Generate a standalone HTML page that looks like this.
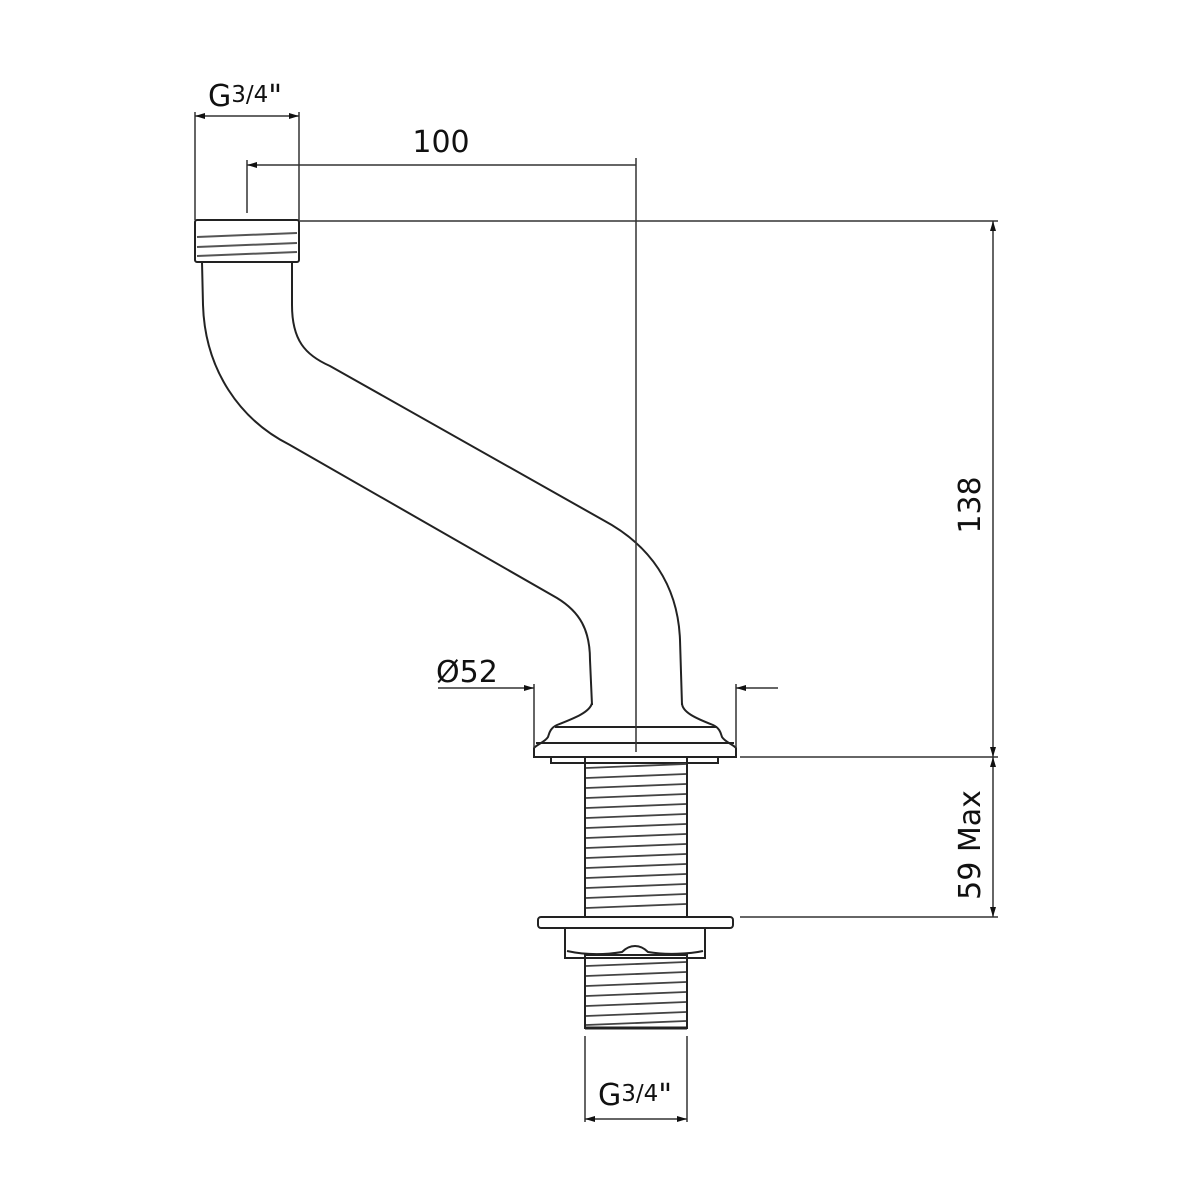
<!DOCTYPE html>
<html><head><meta charset="utf-8"><style>
html,body{margin:0;padding:0;background:#fff}
svg{display:block}
text{font-family:"DejaVu Sans","Liberation Sans",sans-serif;fill:#111}
</style></head><body>
<svg width="1200" height="1200" viewBox="0 0 1200 1200" xmlns="http://www.w3.org/2000/svg">
<defs>
<marker id="a" viewBox="0 0 10 6" refX="10" refY="3" markerWidth="10" markerHeight="6" orient="auto-start-reverse" markerUnits="userSpaceOnUse"><path d="M0,0 L10,3 L0,6z" fill="#111"/></marker>
</defs>
<g stroke="#222" stroke-width="2" fill="none">
<rect x="195" y="220" width="104" height="42" rx="2"/>
<line x1="197" y1="237" x2="297" y2="233" stroke="#555"/>
<line x1="197" y1="247" x2="297" y2="243" stroke="#555"/>
<line x1="197" y1="256" x2="297" y2="252" stroke="#555"/>
<path d="M202,262 L203,305 C205,370 240,420 290,445 L557,598 C580,612 590,630 590,660 L592,705"/>
<path d="M292,262 L292,305 C292,340 305,355 330,366 L603,520 C650,545 678,585 680,640 L682,705"/>
<path d="M592,703 C590,712 575,718 557,725 C550,728 549,734 548,737 C545,742 536,745 534,748 L534,757 L736,757 L736,748 C734,745 725,742 722,737 C721,734 720,728 713,725 C695,718 682,712 682,703"/>
<line x1="555" y1="727" x2="717" y2="727"/>
<line x1="536" y1="743" x2="734" y2="743"/>
<rect x="551" y="757" width="167" height="6"/>
<rect x="585" y="757" width="102" height="160"/>
<g stroke="#444" stroke-width="1.8">
<line x1="586" y1="768" x2="686" y2="764"/><line x1="586" y1="778" x2="686" y2="774"/>
<line x1="586" y1="788" x2="686" y2="784"/><line x1="586" y1="798" x2="686" y2="794"/>
<line x1="586" y1="808" x2="686" y2="804"/><line x1="586" y1="818" x2="686" y2="814"/>
<line x1="586" y1="828" x2="686" y2="824"/><line x1="586" y1="838" x2="686" y2="834"/>
<line x1="586" y1="848" x2="686" y2="844"/><line x1="586" y1="858" x2="686" y2="854"/>
<line x1="586" y1="868" x2="686" y2="864"/><line x1="586" y1="878" x2="686" y2="874"/>
<line x1="586" y1="888" x2="686" y2="884"/><line x1="586" y1="898" x2="686" y2="894"/>
<line x1="586" y1="908" x2="686" y2="904"/>
</g>
<rect x="538" y="917" width="195" height="11" rx="3"/>
<path d="M565,928 L565,958 L705,958 L705,928"/>
<path d="M567,951 C590,956 610,954 622,952 C630,944 640,944 648,952 C665,955 690,954 703,951"/>
<rect x="585" y="955" width="102" height="73"/>
<g stroke="#444" stroke-width="1.8">
<line x1="586" y1="966" x2="686" y2="962"/><line x1="586" y1="976" x2="686" y2="972"/>
<line x1="586" y1="986" x2="686" y2="982"/><line x1="586" y1="996" x2="686" y2="992"/>
<line x1="586" y1="1006" x2="686" y2="1002"/><line x1="586" y1="1016" x2="686" y2="1012"/>
<line x1="586" y1="1025" x2="686" y2="1021"/>
</g>
<line x1="585" y1="1028" x2="687" y2="1028" stroke-width="3"/>
</g>
<g stroke="#333" stroke-width="1.5" fill="none">
<line x1="195" y1="112" x2="195" y2="220"/>
<line x1="299" y1="112" x2="299" y2="220"/>
<line x1="195" y1="116" x2="299" y2="116" marker-start="url(#a)" marker-end="url(#a)"/>
<line x1="247" y1="160" x2="247" y2="213"/>
<line x1="247" y1="165" x2="636" y2="165" marker-start="url(#a)"/>
<line x1="636" y1="158" x2="636" y2="752"/>
<line x1="299" y1="221" x2="998" y2="221"/>
<line x1="740" y1="757" x2="998" y2="757"/>
<line x1="740" y1="917" x2="998" y2="917"/>
<line x1="993" y1="221" x2="993" y2="757" marker-start="url(#a)" marker-end="url(#a)"/>
<line x1="993" y1="757" x2="993" y2="917" marker-start="url(#a)" marker-end="url(#a)"/>
<line x1="534" y1="684" x2="534" y2="748"/>
<line x1="736" y1="684" x2="736" y2="748"/>
<line x1="438" y1="688" x2="534" y2="688" marker-end="url(#a)"/>
<line x1="778" y1="688" x2="736" y2="688" marker-end="url(#a)"/>
<line x1="585" y1="1036" x2="585" y2="1122"/>
<line x1="687" y1="1036" x2="687" y2="1122"/>
<line x1="585" y1="1119" x2="687" y2="1119" marker-start="url(#a)" marker-end="url(#a)"/>
</g>
<text x="208" y="106" font-size="30">G<tspan font-size="23" dy="-4">3/4</tspan><tspan dy="4">"</tspan></text>
<text x="441" y="152" font-size="30" text-anchor="middle">100</text>
<text x="436" y="682" font-size="30">Ø52</text>
<text x="598" y="1105" font-size="30">G<tspan font-size="23" dy="-4">3/4</tspan><tspan dy="4">"</tspan></text>
<text transform="translate(980,505) rotate(-90)" font-size="30" text-anchor="middle">138</text>
<text transform="translate(980,845) rotate(-90)" font-size="30" text-anchor="middle">59 Max</text>
</svg>
</body></html>
